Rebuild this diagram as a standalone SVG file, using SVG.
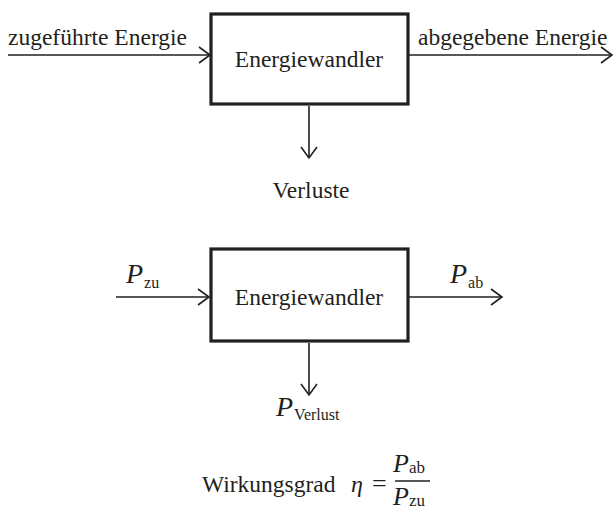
<svg xmlns="http://www.w3.org/2000/svg" width="613" height="507" viewBox="0 0 613 507">
<defs>
<marker id="arr" markerWidth="14" markerHeight="18" refX="12" refY="9" orient="auto" markerUnits="userSpaceOnUse">
<path d="M1,1 L12,9 L1,17" fill="none" stroke="#231f20" stroke-width="1.6"/>
</marker>
</defs>
<style>
.box{fill:#fff;stroke:#231f20;stroke-width:3.2}
.ln{stroke:#231f20;stroke-width:1.6;fill:none;marker-end:url(#arr)}
text{font-family:"Liberation Serif","Times New Roman",serif;fill:#231f20}
.t{font-size:23.5px}
.p{font-size:28px;font-style:italic}
.s{font-size:16px}
</style>
<rect width="613" height="507" fill="#fff"/>
<g id="connectors">
<line class="ln" x1="8" y1="55" x2="210" y2="55"/>
<line class="ln" x1="409" y1="55" x2="612" y2="55"/>
<line class="ln" x1="309" y1="106" x2="309" y2="158"/>
<line class="ln" x1="116" y1="297" x2="209" y2="297"/>
<line class="ln" x1="409" y1="297" x2="502" y2="297"/>
<line class="ln" x1="309" y1="343" x2="309" y2="395"/>
</g>
<g id="box1">
<rect class="box" x="211" y="14" width="197" height="90"/>
<text class="t" x="309" y="67" text-anchor="middle">Energiewandler</text>
</g>
<g id="box2">
<rect class="box" x="211" y="249" width="197" height="92"/>
<text class="t" x="309" y="305" text-anchor="middle">Energiewandler</text>
</g>
<g id="labels">
<text class="t" x="8" y="45">zugeführte Energie</text>
<text class="t" x="418" y="45">abgegebene Energie</text>
<text class="t" x="311" y="198" text-anchor="middle">Verluste</text>
<text x="126" y="283"><tspan class="p">P</tspan><tspan class="s" dx="1" dy="5">zu</tspan></text>
<text x="450" y="283"><tspan class="p">P</tspan><tspan class="s" dx="1" dy="5">ab</tspan></text>
<text x="276" y="416"><tspan class="p">P</tspan><tspan class="s" dx="1" dy="4">Verlust</tspan></text>
</g>
<g id="formula">
<text class="t" x="202" y="492">Wirkungsgrad</text>
<text class="p" x="351" y="492" style="font-size:24px">η</text>
<text x="372" y="492" style="font-size:26px">=</text>
<line x1="395" y1="481" x2="430" y2="481" stroke="#231f20" stroke-width="1.3"/>
<text x="393" y="472"><tspan class="p" style="font-size:26px">P</tspan><tspan class="s" dx="0" dy="1" style="font-size:17px">ab</tspan></text>
<text x="393" y="505"><tspan class="p" style="font-size:26px">P</tspan><tspan class="s" dx="0" dy="1" style="font-size:17px">zu</tspan></text>
</g>
</svg>
